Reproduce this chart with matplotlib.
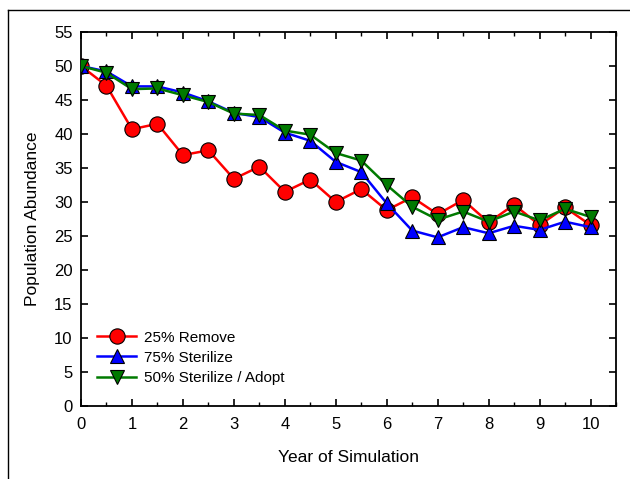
import matplotlib
matplotlib.use("Agg")
import matplotlib.pyplot as plt
from matplotlib.lines import Line2D
from matplotlib.ticker import MultipleLocator

plt.rcParams['font.family'] = ['Liberation Sans', 'DejaVu Sans']

years = [0, 0.5, 1, 1.5, 2, 2.5, 3, 3.5, 4, 4.5, 5, 5.5, 6, 6.5, 7, 7.5, 8, 8.5, 9, 9.5, 10]
remove25 = [50, 47.1, 40.7, 41.5, 36.9, 37.6, 33.4, 35.2, 31.5, 33.3, 30.0, 31.9,
            28.8, 30.7, 28.2, 30.3, 27.0, 29.6, 26.6, 29.2, 26.6]
sterilize75 = [50, 49.2, 47.0, 47.0, 46.1, 44.8, 43.1, 42.5, 40.2, 39.0, 35.9, 34.4,
               29.8, 25.8, 24.8, 26.3, 25.4, 26.5, 25.9, 27.1, 26.3]
sterilize_adopt50 = [50, 49.0, 46.6, 46.7, 45.7, 44.7, 43.0, 42.8, 40.5, 39.9, 37.2, 36.1,
                     32.5, 29.3, 27.4, 28.6, 27.1, 28.6, 27.3, 29.0, 27.8]
labels = ["25% Remove", "75% Sterilize", "50% Sterilize / Adopt"]

fig = plt.figure(figsize=(6.3, 4.79), dpi=100)
ax = fig.add_axes([81/630, 1-406/479, (616-81)/630, (406-32)/479])

ax.plot(years, remove25, color='#ff0000', lw=1.8, marker='o', ms=11,
        mfc='#ff0000', mec='black', mew=0.8, label=labels[0], zorder=3)
ax.plot(years, sterilize75, color='#0000ff', lw=1.8, marker='^', ms=10.5,
        mfc='#0000ff', mec='black', mew=0.8, label=labels[1], zorder=4)
ax.plot(years, sterilize_adopt50, color='#007a00', lw=1.8, marker='v', ms=10.5,
        mfc='#007a00', mec='black', mew=0.8, label=labels[2], zorder=5)

ax.set_xlim(0, 10.5)
ax.set_ylim(0, 55)
ax.xaxis.set_major_locator(MultipleLocator(1))
ax.xaxis.set_minor_locator(MultipleLocator(0.5))
ax.yaxis.set_major_locator(MultipleLocator(5))
ax.set_xticks(range(0, 11))
ax.tick_params(axis='both', which='major', direction='in', length=5, width=1.2,
               top=True, right=True, labelsize=12)
ax.tick_params(axis='x', which='major', pad=8)
ax.tick_params(axis='y', which='major', pad=6)
ax.tick_params(axis='x', which='minor', direction='in', length=3, width=1,
               top=True)
for s in ax.spines.values():
    s.set_linewidth(1.3)

ax.set_xlabel("Year of Simulation", fontsize=12.5, labelpad=13)
ax.set_ylabel("Population Abundance", fontsize=12.5, labelpad=10)

ax.legend(loc='lower left', bbox_to_anchor=(0.018, 0.04), frameon=False,
          fontsize=11, handlelength=2.6, handletextpad=0.5, labelspacing=0.4,
          borderaxespad=0)

fig.add_artist(Line2D([8/630, 8/630], [0, 1-10/479], color='black', lw=1,
                      transform=fig.transFigure))
fig.add_artist(Line2D([8/630, 1], [1-10/479, 1-10/479], color='black', lw=1,
                      transform=fig.transFigure))

fig.savefig("out.png", dpi=100)
